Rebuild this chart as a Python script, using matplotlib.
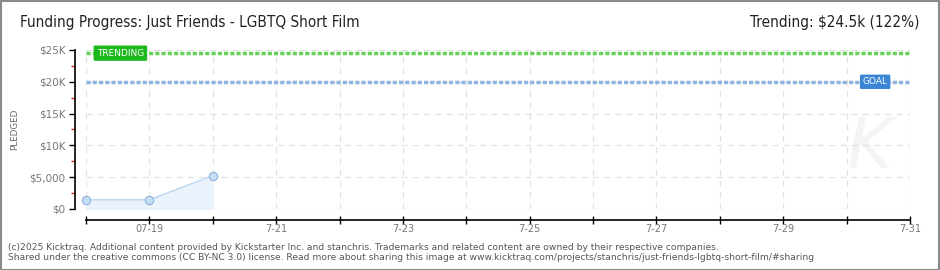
import matplotlib.pyplot as plt
import numpy as np
from matplotlib.patches import Rectangle

# data (days since 07-18)
days = np.array([0, 1, 2])
pledged = np.array([1450, 1450, 5250])
goal = 20000
trending = 24500
ytick_vals = [0, 5000, 10000, 15000, 20000, 25000]
ytick_labels = ["$0", "$5,000", "$10K", "$15K", "$20K", "$25K"]
xtick_vals = [1, 3, 5, 7, 9, 11, 13]
xtick_labels = ["07-19", "7-21", "7-23", "7-25", "7-27", "7-29", "7-31"]

W, H = 940, 270
fig = plt.figure(figsize=(9.4, 2.7), dpi=100)
plt.rcParams['font.family'] = ['DejaVu Sans']

x0, x1 = 86, 910
y0, y1 = 209, 50
ax = fig.add_axes([x0 / W, (H - y0) / H, (x1 - x0) / W, (y0 - y1) / H])
ax.set_xlim(0, 13)
ax.set_ylim(0, 25000)

# faint watermark
ax.text(12.35, 9500, "K", fontsize=50, style='italic', color='#f4f4f4', ha='center', va='center', zorder=0)

# grid
for d in range(0, 14):
    ax.axvline(d, color='#e2e2e2', lw=0.9, ls=(0, (5, 4)), zorder=0)
for v in ytick_vals:
    ax.axhline(v, color='#e2e2e2', lw=0.9, ls=(0, (5, 4)), zorder=0)

# pledged series
ax.fill_between(days, 0, pledged, color='#eaf3fc', zorder=1)
ax.plot(days, pledged, color='#bcd6f2', lw=1, zorder=2)
ax.plot(days, pledged, 'o', ms=6, mfc='#c6ddf6', mec='#8eb2da', mew=0.8, zorder=3, clip_on=False)

# goal and trending lines
ax.axhline(goal, color='#8fb4de', lw=2.5, ls=(0, (1.2, 0.6)), zorder=2)
ax.axhline(trending, color='#66d25a', lw=2.5, ls=(0, (1.2, 0.6)), zorder=2)

ax.text(0.17, trending, "TRENDING", color='white', fontsize=6.5, va='center', ha='left', zorder=5,
        bbox=dict(boxstyle='round,pad=0.35,rounding_size=0.15', fc='#1db81d', ec='none'))
ax.text(12.45, goal, "GOAL", color='white', fontsize=6.5, va='center', ha='center', zorder=5,
        bbox=dict(boxstyle='round,pad=0.3,rounding_size=0.15', fc='#3a86d4', ec='none'))

# spines
for s in ['top', 'right']:
    ax.spines[s].set_visible(False)
ax.spines['left'].set_position(('outward', 7.6))
ax.spines['bottom'].set_position(('outward', 7.9))
ax.spines['left'].set_linewidth(1.2)
ax.spines['bottom'].set_linewidth(1.2)

ax.set_yticks(ytick_vals)
ax.set_yticklabels(ytick_labels)
ax.set_yticks([2500, 7500, 12500, 17500, 22500], minor=True)
ax.tick_params(axis='y', which='major', length=4, width=1, colors='black', labelcolor='#777777', labelsize=7.5, pad=3)
ax.tick_params(axis='y', which='minor', length=3, width=1, color='#dd2222')

ax.set_xticks(xtick_vals)
ax.set_xticklabels(xtick_labels)
ax.set_xticks([0, 2, 4, 6, 8, 10, 12], minor=True)
ax.tick_params(axis='x', which='both', direction='inout', length=6, width=1, colors='black',
               labelcolor='#777777', labelsize=7, pad=0)

ax.set_ylabel("PLEDGED", fontsize=6.3, color='#666666')
ax.yaxis.set_label_coords(-67 / (x1 - x0), 0.5)

# titles
fig.text(20 / W, 1 - 22 / H, "Funding Progress: Just Friends - LGBTQ Short Film", fontsize=11,
         fontstretch='condensed', color='#222222', va='center', ha='left')
fig.text(920 / W, 1 - 22 / H, "Trending: $24.5k (122%)", fontsize=11,
         fontstretch='condensed', color='#222222', va='center', ha='right')

# footer
fig.text(8 / W, 1 - 247 / H,
         "(c)2025 Kicktraq. Additional content provided by Kickstarter Inc. and stanchris. Trademarks and related content are owned by their respective companies.",
         fontsize=6.6, color='#555555', va='center', ha='left')
fig.text(8 / W, 1 - 257.5 / H,
         "Shared under the creative commons (CC BY-NC 3.0) license. Read more about sharing this image at www.kicktraq.com/projects/stanchris/just-friends-lgbtq-short-film/#sharing",
         fontsize=6.6, color='#555555', va='center', ha='left')

# border
fig.patches.append(Rectangle((0.5 / W, 0.5 / H), 1 - 1.5 / W, 1 - 1.5 / H, transform=fig.transFigure,
                             fill=False, ec='#8a8a8a', lw=1.5))

fig.savefig("out.png", dpi=100)
